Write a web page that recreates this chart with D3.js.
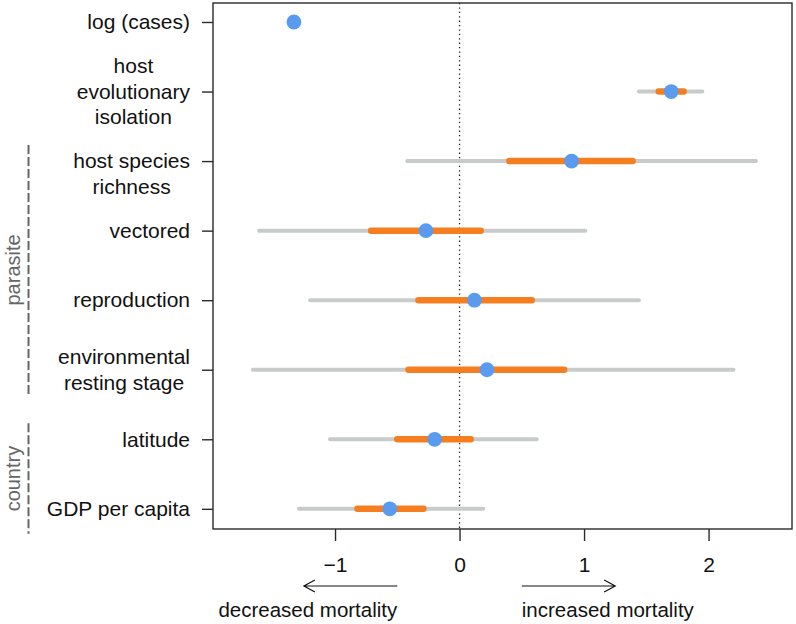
<!DOCTYPE html>
<html>
<head>
<meta charset="utf-8">
<script src="https://cdnjs.cloudflare.com/ajax/libs/d3/7.8.5/d3.min.js"></script>
<style>
  body { margin: 0; background: #fff; }
  svg text { font-family: "Liberation Sans", Helvetica, Arial, sans-serif; }
</style>
</head>
<body>
<div id="chart"></div>
<script>
/*global d3 */
var labels = ["log (cases)", "host\nevolutionary\nisolation", "host species\nrichness", "vectored",
              "reproduction", "environmental\nresting stage", "latitude", "GDP per capita"];
var estimate = [-1.33, 1.70, 0.90, -0.27, 0.12, 0.22, -0.20, -0.56];
var outerLo = [null, 1.44, -0.42, -1.61, -1.20, -1.66, -1.04, -1.29];
var outerHi = [null, 1.95, 2.38, 1.01, 1.44, 2.20, 0.62, 0.19];
var innerLo = [null, 1.60, 0.40, -0.71, -0.33, -0.41, -0.50, -0.82];
var innerHi = [null, 1.80, 1.39, 0.17, 0.58, 0.84, 0.09, -0.29];
var xTicks = [-1, 0, 1, 2];
var groupNames = ["parasite", "country"];
var groupFirst = [2, 6];
var groupLast = [5, 7];
var arrowText = ["decreased mortality", "increased mortality"];

(function() {
    var W = 796, H = 624;
    var left = 213, right = 792, top = 3, bottom = 529;
    var fs = 21;

    var svg = d3.select("#chart").append("svg")
        .attr("width", W).attr("height", H);

    var x = d3.scaleLinear().domain([-1.98, 2.67]).range([left, right]);
    // rows as numeric index so the brackets can sit between rows
    var y = d3.scaleLinear().domain([-0.273, 7.29]).range([top, bottom]);
    var rows = d3.range(labels.length);

    // zero line
    svg.append("line")
        .attr("x1", x(0)).attr("x2", x(0)).attr("y1", top).attr("y2", bottom)
        .attr("stroke", "#222").attr("stroke-width", 1.3)
        .attr("stroke-dasharray", "1.3,3.1");

    var withCI = rows.filter(function(i) { return outerLo[i] !== null; });

    svg.append("g").selectAll("line").data(withCI).enter().append("line")
        .attr("x1", function(i) { return x(outerLo[i]); })
        .attr("x2", function(i) { return x(outerHi[i]); })
        .attr("y1", function(i) { return y(i); })
        .attr("y2", function(i) { return y(i); })
        .attr("stroke", "#c7cbc9").attr("stroke-width", 4)
        .attr("stroke-linecap", "round");

    svg.append("g").selectAll("line").data(withCI).enter().append("line")
        .attr("x1", function(i) { return x(innerLo[i]); })
        .attr("x2", function(i) { return x(innerHi[i]); })
        .attr("y1", function(i) { return y(i); })
        .attr("y2", function(i) { return y(i); })
        .attr("stroke", "#f57f20").attr("stroke-width", 6.5)
        .attr("stroke-linecap", "round");

    svg.append("g").selectAll("circle").data(rows).enter().append("circle")
        .attr("cx", function(i) { return x(estimate[i]); })
        .attr("cy", function(i) { return y(i); })
        .attr("r", 7.4)
        .attr("fill", "#5a9bf0");

    // box
    svg.append("rect")
        .attr("x", left).attr("y", top)
        .attr("width", right - left).attr("height", bottom - top)
        .attr("fill", "none").attr("stroke", "#2a2a2a").attr("stroke-width", 1.4);

    var xAxis = d3.axisBottom(x).tickValues(xTicks).tickSize(12).tickPadding(16)
        .tickFormat(function(d) { return d < 0 ? "\u2212" + Math.abs(d) : d; });
    var gx = svg.append("g").attr("transform", "translate(0," + bottom + ")").call(xAxis);
    gx.select(".domain").remove();
    gx.selectAll("line").attr("stroke", "#2a2a2a").attr("stroke-width", 1.4);
    gx.selectAll("text").attr("font-size", fs).attr("font-family", null).attr("fill", "#111");

    var yAxis = d3.axisLeft(y).tickValues(rows).tickSize(11).tickFormat("");
    var gy = svg.append("g").attr("transform", "translate(" + left + ",0)").call(yAxis);
    gy.select(".domain").remove();
    gy.selectAll("line").attr("stroke", "#2a2a2a").attr("stroke-width", 1.4);

    // row labels: block right aligned, lines centred on each other
    var lineH = 25.5;
    var labelEnd = 190;
    var shift = [0, 0, 0.5, 0, 0, 0, 0, 0];
    var lab = svg.append("g").attr("font-size", fs).attr("fill", "#111");
    rows.forEach(function(i) {
        var parts = labels[i].split("\n");
        var t = lab.append("text").attr("text-anchor", "middle");
        var spans = parts.map(function(p, k) {
            return t.append("tspan")
                .attr("y", y(i) + 7.3 + (k - (parts.length - 1) / 2 + shift[i]) * lineH)
                .text(p);
        });
        var wmax = d3.max(spans, function(s) { return s.node().getComputedTextLength(); });
        spans.forEach(function(s) { s.attr("x", labelEnd - wmax / 2); });
    });

    // group brackets
    groupNames.forEach(function(name, g) {
        var y0 = y(groupFirst[g] - 0.23), y1 = y(groupLast[g] + 0.36);
        svg.append("line")
            .attr("x1", 28.5).attr("x2", 28.5).attr("y1", y0).attr("y2", y1)
            .attr("stroke", "#666").attr("stroke-width", 2)
            .attr("stroke-dasharray", "9,3");
        svg.append("text")
            .attr("transform", "translate(19.5," + ((y0 + y1) / 2) + ") rotate(-90)")
            .attr("text-anchor", "middle").attr("font-size", 20).attr("fill", "#666")
            .text(name);
    });

    // direction arrows under the axis
    var arrowY = 586;
    function arrow(from, to) {
        var x0 = x(from), x1 = x(to), d = x1 > x0 ? -1 : 1;
        svg.append("path")
            .attr("d", "M" + x0 + "," + arrowY + "H" + x1 +
                  "M" + (x1 + d * 11) + "," + (arrowY - 6) + "L" + x1 + "," + arrowY +
                  "L" + (x1 + d * 11) + "," + (arrowY + 6))
            .attr("fill", "none").attr("stroke", "#111").attr("stroke-width", 1.2);
    }
    arrow(-0.5, -1.25);
    arrow(0.5, 1.25);

    svg.append("text").attr("x", x(-0.5)).attr("y", 617).attr("text-anchor", "end")
        .attr("font-size", 20.5).attr("fill", "#111").text(arrowText[0]);
    svg.append("text").attr("x", x(0.5)).attr("y", 617).attr("text-anchor", "start")
        .attr("font-size", 20.5).attr("fill", "#111").text(arrowText[1]);
}());
</script>
</body>
</html>
